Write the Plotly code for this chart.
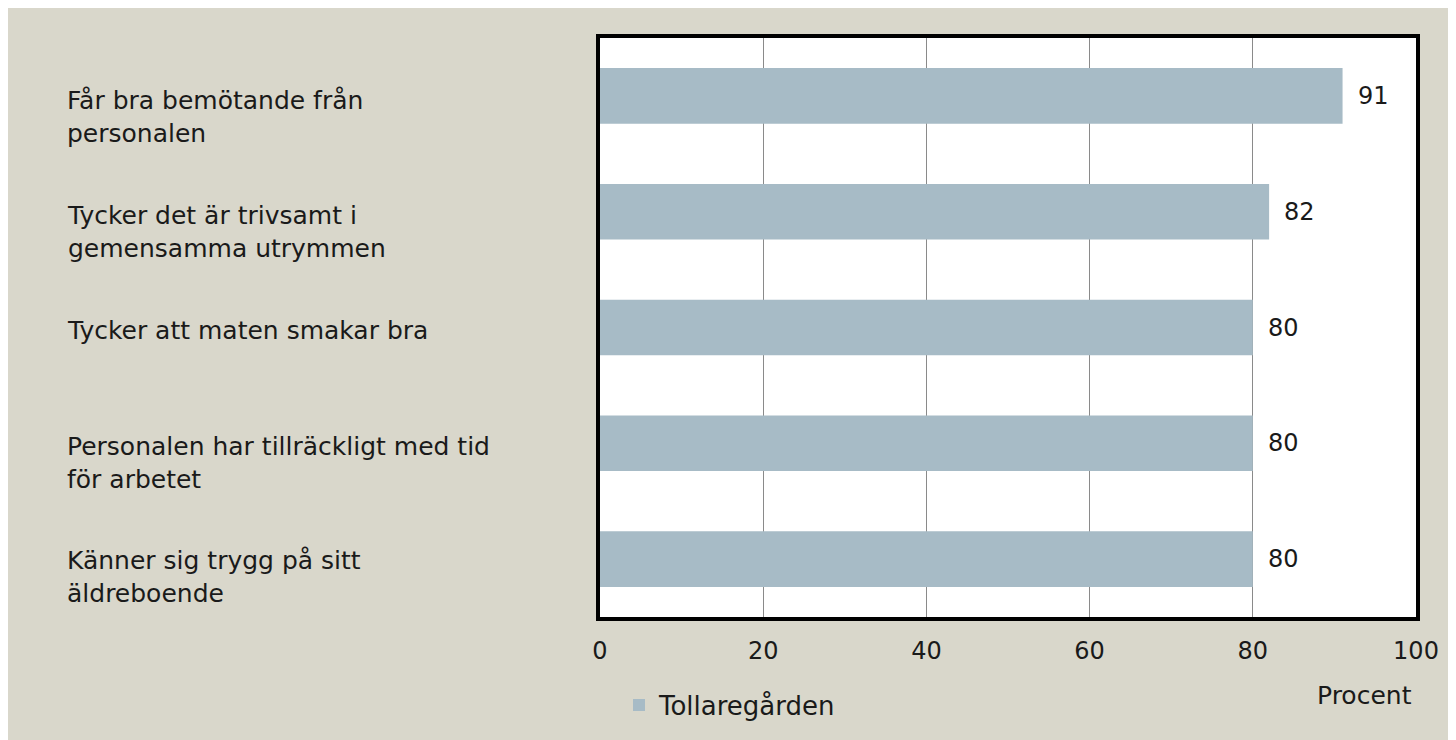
import plotly.graph_objects as go

categories = [
    "Får bra bemötande från<br>personalen",
    "Tycker det är trivsamt i<br>gemensamma utrymmen",
    "Tycker att maten smakar bra",
    "Personalen har tillräckligt med tid<br>för arbetet",
    "Känner sig trygg på sitt<br>äldreboende",
]
values = [91, 82, 80, 80, 80]
series_name = "Tollaregården"
tick_vals = [0, 20, 40, 60, 80, 100]
x_title = "Procent"

W, H = 1456, 740
L, R, T, B = 592, 1408, 30, 609
FONT = "DejaVu Sans"
BEIGE = "#D9D7CB"
BAR = "#A7BBC6"
TXT = "#1a1a1a"

def px_x(p):
    return (p - L) / (R - L)

def px_y(p):
    return (B - p) / (B - T)

fig = go.Figure()
fig.add_trace(go.Bar(
    y=categories, x=values, orientation="h", name=series_name,
    marker=dict(color=BAR, line=dict(width=0)), width=0.48,
    showlegend=True,
))

# value labels
for c, v in zip(categories, values):
    fig.add_annotation(x=v, y=c, xref="x", yref="y", text=str(v),
                       showarrow=False, xanchor="left", yanchor="middle",
                       xshift=13, font=dict(family=FONT, size=24, color=TXT))

# category labels on the left
label_y = [109, 224, 322, 455, 569]
for c, yp in zip(categories, label_y):
    fig.add_annotation(x=px_x(57), y=px_y(yp), xref="paper", yref="paper",
                       text=c, showarrow=False, xanchor="left", yanchor="middle",
                       align="left", font=dict(family=FONT, size=25, color=TXT))

fig.add_annotation(x=px_x(1356), y=px_y(687), xref="paper", yref="paper",
                   text=x_title, showarrow=False, xanchor="center", yanchor="middle",
                   font=dict(family=FONT, size=25, color=TXT))

fig.update_layout(
    width=W, height=H,
    margin=dict(l=L, r=W - R, t=T, b=H - B, pad=0),
    paper_bgcolor=BEIGE, plot_bgcolor="white",
    font=dict(family=FONT, size=24, color=TXT),
    bargap=0.52,
    legend=dict(orientation="h", x=px_x(611), y=px_y(697), xanchor="left", yanchor="middle",
                bgcolor="rgba(0,0,0,0)", font=dict(family=FONT, size=26, color=TXT),
                itemwidth=30, tracegroupgap=0),
    xaxis=dict(range=[0, 100], tickvals=tick_vals, showgrid=True, gridcolor="#8A8A8A",
               gridwidth=1, zeroline=False, showline=True, linecolor="black", linewidth=4,
               mirror=True, ticks="", ticklabelstandoff=9,
               tickfont=dict(family=FONT, size=24, color=TXT)),
    yaxis=dict(categoryorder="array", categoryarray=categories, autorange="reversed",
               showticklabels=False, showgrid=False, zeroline=False, showline=True,
               linecolor="black", linewidth=4, mirror=True, ticks=""),
)

fig.write_html("out.html")
